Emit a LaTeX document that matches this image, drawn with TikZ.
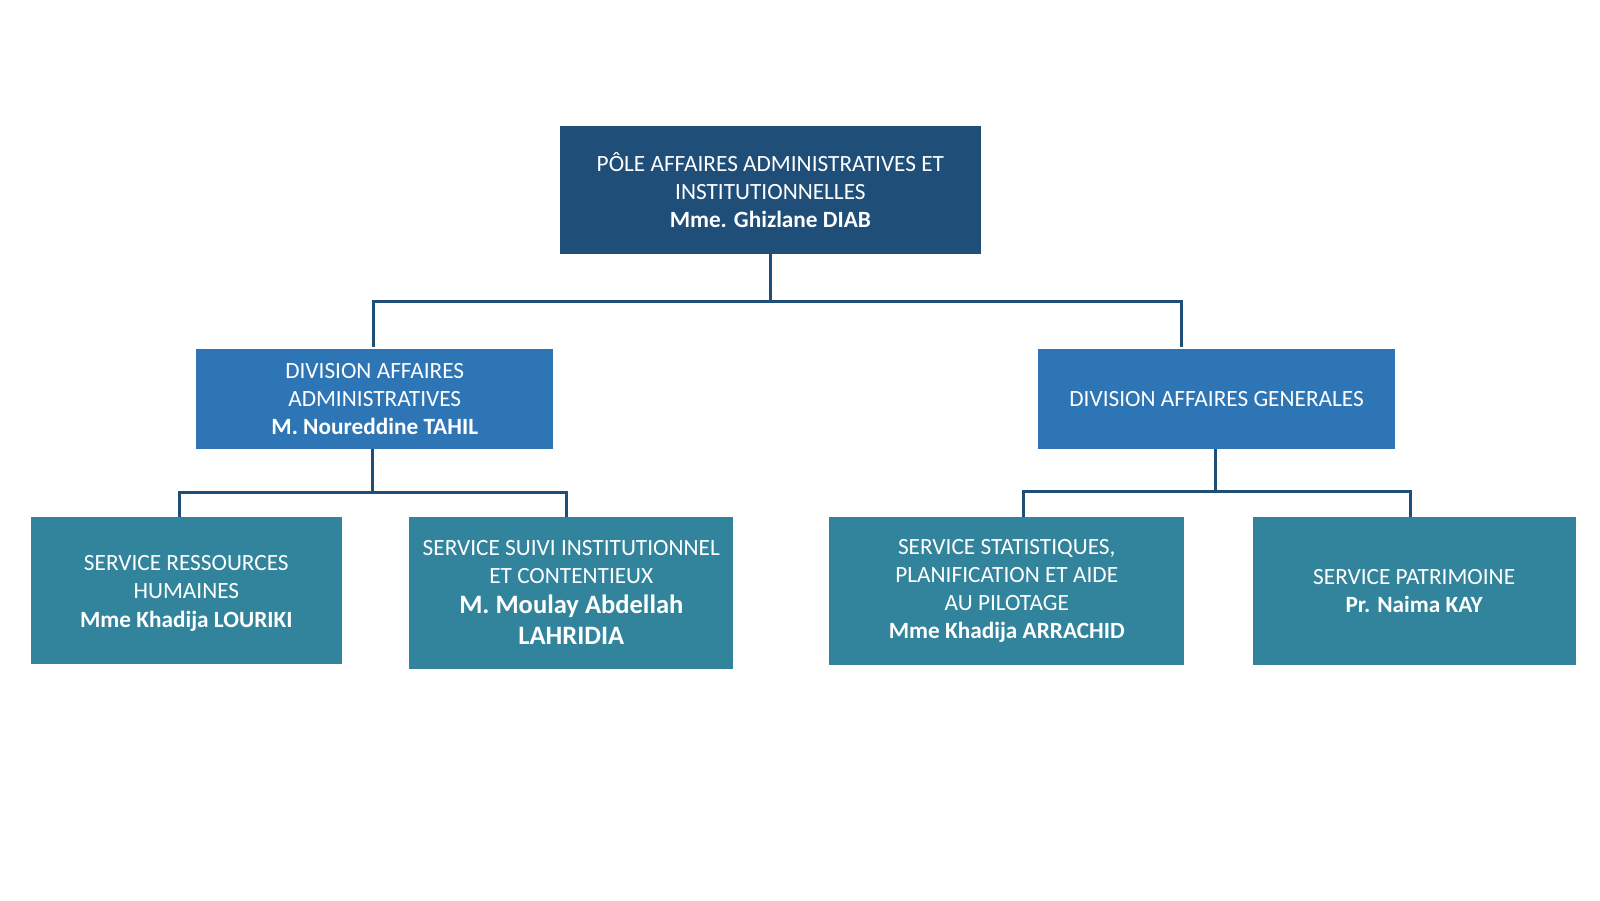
\documentclass[tikz,border=0pt]{standalone}
\usepackage{fontspec}
\setmainfont{Carlito}
\usetikzlibrary{calc}
\definecolor{pole}{HTML}{1F4E79}
\definecolor{divc}{HTML}{2E75B6}
\definecolor{serv}{HTML}{31849B}
\definecolor{linec}{HTML}{1F4E79}
\newcommand{\bigname}[1]{{\fontsize{26}{31}\selectfont\bfseries #1}}
\begin{document}
\begin{tikzpicture}[x=1pt,y=-1pt,
  box/.style={draw=none,inner sep=0pt,align=center,text=white,
    font=\fontsize{22.8}{27.6}\selectfont},
  conn/.style={draw=linec,line width=3pt,line join=miter}]
\useasboundingbox[fill=white] (0,0) rectangle (1567,881.5);
\node[box,fill=pole,minimum width=413pt,minimum height=126pt] (top) at (754.5,186)
  {PÔLE AFFAIRES ADMINISTRATIVES ET\\INSTITUTIONNELLES\\\textbf{Mme. Ghizlane DIAB}};
\node[box,fill=divc,minimum width=350pt,minimum height=98pt] (divL) at (367,391)
  {DIVISION AFFAIRES\\ADMINISTRATIVES\\\textbf{M. Noureddine TAHIL}};
\node[box,fill=divc,minimum width=349pt,minimum height=98pt] (divR) at (1191.5,391)
  {DIVISION AFFAIRES GENERALES};
\node[box,fill=serv,minimum width=305pt,minimum height=144pt] (s1) at (182.5,578) {};
\node[box] (s1t) at ($(s1.center)+(0,3)$)
  {SERVICE RESSOURCES\\HUMAINES\\\textbf{Mme Khadija LOURIKI}};
\node[box,fill=serv,minimum width=317pt,minimum height=149pt] (s2) at (559.5,580.5)
  {SERVICE SUIVI INSTITUTIONNEL\\ET CONTENTIEUX\\[1pt]\bigname{M. Moulay Abdellah}\\[3.4pt]\bigname{LAHRIDIA}};
\node[box,fill=serv,minimum width=348pt,minimum height=145pt] (s3) at (986,578.5)
  {SERVICE STATISTIQUES,\\PLANIFICATION ET AIDE\\AU PILOTAGE\\\textbf{Mme Khadija ARRACHID}};
\node[box,fill=serv,minimum width=316pt,minimum height=145pt] (s4) at (1385,578.5)
  {SERVICE PATRIMOINE\\\textbf{Pr. Naima KAY}};
% connectors
\coordinate (hA) at (754.5,295);
\coordinate (dL) at (366,340);
\coordinate (dR) at (1157,340);
\draw[conn] (top.south) -- (hA);
\draw[conn] (dL) |- (hA) -| (dR);
\coordinate (hB) at (365,482);
\coordinate (d1) at (176,506);
\coordinate (d2) at (555,506);
\draw[conn] (divL.south -| hB) -- (hB);
\draw[conn] (d1) |- (hB) -| (d2);
\coordinate (hC) at (1190,481);
\coordinate (d3) at (1002,506);
\coordinate (d4) at (1381,506);
\draw[conn] (divR.south -| hC) -- (hC);
\draw[conn] (d3) |- (hC) -| (d4);
\end{tikzpicture}
\end{document}
